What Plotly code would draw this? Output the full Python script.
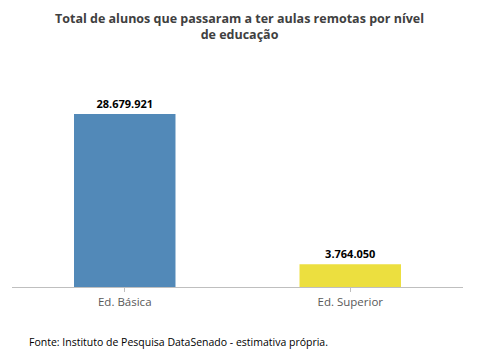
import plotly.graph_objects as go

categories = ["Ed. Básica", "Ed. Superior"]
values = [28679921, 3764050]
colors = ["#5289b8", "#ecdf3f"]

labels = [f"{v:,}".replace(",", ".") for v in values]

fig = go.Figure(go.Bar(
    x=categories, y=values, text=labels, textposition="outside",
    marker=dict(color=colors, line=dict(width=0)),
    width=0.45, cliponaxis=False,
    textfont=dict(family="Open Sans", size=11, color="#000000", weight="bold"),
))

PH = 217  # plot height in px
fig.update_layout(
    width=478, height=363,
    margin=dict(l=12, r=15, t=70, b=76),
    paper_bgcolor="white", plot_bgcolor="white",
    showlegend=False,
    xaxis=dict(showline=True, linecolor="#bfbfbf", linewidth=1, ticks="outside",
               tickcolor="#bfbfbf", ticklen=4, showgrid=False,
               tickfont=dict(family="Open Sans", size=11.5, color="#595959")),
    yaxis=dict(visible=False, range=[0, 36000000], showgrid=False),
    annotations=[
        dict(
            text="<b>Total de alunos que passaram a ter aulas remotas por nível<br>de educação</b>",
            xref="paper", yref="paper", x=(240 - 12) / 451, y=(287 - 26) / PH,
            xanchor="center", yanchor="middle", showarrow=False, align="center",
            font=dict(family="Open Sans", size=12.5, color="#404040"),
        ),
        dict(
            text="Fonte: Instituto de Pesquisa DataSenado - estimativa própria.",
            xref="paper", yref="paper", x=(27 - 12) / 451, y=-(342 - 287) / PH,
            xanchor="left", yanchor="middle", showarrow=False,
            font=dict(family="Open Sans", size=10.5, color="#000000"),
        ),
    ],
)

fig.write_html("out.html", config={"displayModeBar": False},
               post_script="document.body.style.margin='0';")
